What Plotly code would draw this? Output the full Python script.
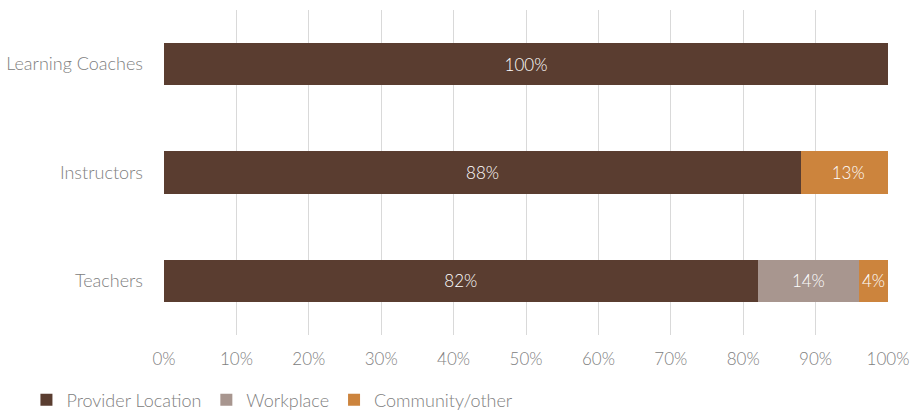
import plotly.graph_objects as go

# Share of instruction by location, per staff role (percent)
roles = ["Teachers", "Instructors", "Learning Coaches"]
provider_location = [82, 88, 100]
workplace = [14, 0, 0]
community_other = [4, 13, 0]

series = [
    ("Provider Location", provider_location, "#5a3d30"),
    ("Workplace", workplace, "#a8968f"),
    ("Community/other", community_other, "#cc843d"),
]

FONT = "Lato"
GREY = "#808080"

fig = go.Figure()
for name, values, color in series:
    labels = [f"{v}%" if v > 0 else "" for v in values]
    fig.add_trace(go.Bar(
        y=roles,
        x=values,
        name=name,
        orientation="h",
        marker=dict(color=color, line=dict(width=0)),
        text=labels,
        textposition="inside",
        insidetextanchor="middle",
        textangle=0,
        constraintext="none",
        textfont=dict(family=FONT, size=17, color="#ffffff", weight=300),
        texttemplate="%{text}",
    ))

fig.update_layout(
    barmode="stack",
    bargap=0.61,
    width=912,
    height=412,
    margin=dict(l=164, r=24, t=10, b=77, autoexpand=False),
    paper_bgcolor="#ffffff",
    plot_bgcolor="#ffffff",
    font=dict(family=FONT, size=17, color=GREY, weight=300),
    uniformtext=dict(minsize=17, mode="show"),
    xaxis=dict(
        range=[0, 100],
        dtick=10,
        ticksuffix="%",
        showgrid=True,
        gridcolor="#d9d9d9",
        gridwidth=1,
        zeroline=False,
        showline=False,
        ticks="",
        automargin=False,
        ticklabelstandoff=12,
        tickfont=dict(family=FONT, size=17, color=GREY, weight=300),
    ),
    yaxis=dict(
        range=[-0.5, 2.5],
        showgrid=False,
        zeroline=False,
        showline=False,
        ticks="",
        automargin=False,
        ticklabelstandoff=20,
        tickfont=dict(family=FONT, size=18, color=GREY, weight=300),
    ),
    legend=dict(
        orientation="h",
        x=-0.19,
        xanchor="left",
        y=-0.2,
        yanchor="middle",
        traceorder="normal",
        font=dict(family=FONT, size=18, color=GREY, weight=300),
        itemwidth=30,
        itemsizing="constant",
    ),
    showlegend=True,
)

fig.write_html("out.html")
